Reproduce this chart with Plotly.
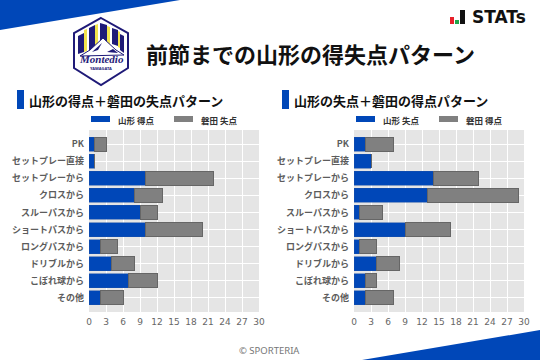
import plotly.graph_objects as go

categories = ["PK", "セットプレー直接", "セットプレーから", "クロスから", "スルーパスから",
              "ショートパスから", "ロングパスから", "ドリブルから", "こぼれ球から", "その他"]
left_home = [1, 1, 10, 8, 9, 10, 2, 4, 7, 2]
left_away = [2, 0, 12, 5, 3, 10, 3, 4, 5, 4]
right_home = [2, 3, 14, 13, 1, 9, 1, 4, 2, 2]
right_away = [5, 0, 8, 16, 4, 8, 3, 4, 2, 5]
x_ticks = list(range(0, 31, 3))

BLUE = "#0047b8"
GREY = "#808080"
EDGE = "#666666"
JP = "Noto Sans CJK JP"
W, H = 540, 360


def px(x):
    return x / W


def py(y):
    return 1 - y / H


fig = go.Figure()
for suffix, vals_a, vals_b, name_a, name_b in [
    ("", left_home, left_away, "山形 得点", "磐田 失点"),
    ("2", right_home, right_away, "山形 失点", "磐田 得点"),
]:
    fig.add_bar(y=categories, x=vals_a, orientation="h", name=name_a, xaxis="x" + suffix, yaxis="y" + suffix,
                marker=dict(color=BLUE, line=dict(color="#1a4fa8", width=0.5)), width=0.82, showlegend=False)
    fig.add_bar(y=categories, x=vals_b, orientation="h", name=name_b, xaxis="x" + suffix, yaxis="y" + suffix,
                marker=dict(color=GREY, line=dict(color=EDGE, width=1)), width=0.82, showlegend=False)

common_x = dict(range=[0, 30], tickvals=x_ticks, showgrid=True, gridcolor="white", gridwidth=1.2, zeroline=False,
                automargin=False, ticks="", ticklabelstandoff=3,
                tickfont=dict(family="DejaVu Sans", size=9, color="#666666"), showline=False)
common_y = dict(autorange=False, range=[9.82, -0.82], categoryorder="array", categoryarray=categories,
                automargin=False, showgrid=True, gridcolor="white", gridwidth=1.2, ticks="", ticklen=0,
                ticklabelstandoff=4, tickfont=dict(family=JP, size=9, color="#5c5c5c", weight="bold"),
                showline=False)

shapes = []
annotations = []


def rect(x0, y0, x1, y1, color):
    shapes.append(dict(type="rect", xref="paper", yref="paper", x0=px(x0), x1=px(x1), y0=py(y1), y1=py(y0),
                       fillcolor=color, line=dict(width=0), layer="above"))


def poly(points, color, line=None, width=0):
    path = "M " + " L ".join(f"{px(a):.5f},{py(b):.5f}" for a, b in points) + " Z"
    shapes.append(dict(type="path", xref="paper", yref="paper", path=path, fillcolor=color,
                       line=dict(width=width, color=line or color), layer="above"))


def text(x, y, s, size, color="#111111", family=JP, anchor="left", weight="normal", style="normal"):
    annotations.append(dict(xref="paper", yref="paper", x=px(x), y=py(y), text=s, showarrow=False,
                            xanchor=anchor, yanchor="middle", borderpad=0,
                            font=dict(family=family, size=size, color=color, weight=weight, style=style)))


# page corners
poly([(0, 0), (180, 0), (0, 30)], BLUE)
poly([(362, 360), (540, 330), (540, 360)], BLUE)

# crest
NAVY = "#1f1a78"
YEL = "#f2e34c"
poly([(101, 18), (128, 33), (128, 68), (101, 85), (74, 68), (74, 33)], "white", NAVY, 2)
poly([(78, 36), (84, 33), (84, 52), (78, 54)], NAVY)
poly([(84, 30), (87, 29), (87, 51), (84, 52)], YEL)
poly([(89, 28), (95, 25), (95, 48), (89, 51)], NAVY)
poly([(95, 25), (98, 24), (98, 47), (95, 48)], YEL)
poly([(100, 23), (107, 25), (107, 44), (100, 42)], NAVY)
poly([(107, 26), (110, 27), (110, 45), (107, 44)], YEL)
poly([(112, 28), (118, 30), (118, 46), (112, 44)], NAVY)
poly([(118, 31), (120, 32), (120, 48), (118, 47)], YEL)
poly([(120, 34), (124, 36), (124, 53), (120, 50)], NAVY)
poly([(80, 56), (90, 50), (103, 38), (116, 50), (124, 55)], "white", NAVY, 1)
poly([(92, 52), (102, 43), (98, 50)], NAVY)
poly([(107, 52), (113, 49), (118, 53)], NAVY)
text(101, 59.5, "Montedio", 11, NAVY, "Liberation Serif", "center", "bold", "italic")
text(101, 68.5, "YAMAGATA", 4, NAVY, "Noto Sans", "center", "bold")

# STATs logo
rect(450, 17, 454, 24, "#e8202a")
rect(455, 20, 459, 24, "#1fa64a")
rect(460, 10, 465, 24, "#111111")
text(471, 17, "STATs", 17, "#111111", "DejaVu Sans", "left", "bold")

# title
text(145, 52.5, "前節までの山形の得失点パターン", 22, "#111111", JP, "left", "bold")

# sub-panels
for x_bar, sub, leg_a, leg_b, xs in [
    (17, "山形の得点＋磐田の失点パターン", "山形 得点", "磐田 失点", (91, 117, 174, 200)),
    (282, "山形の失点＋磐田の得点パターン", "山形 失点", "磐田 得点", (356, 382, 439, 465)),
]:
    rect(x_bar, 90, x_bar + 7, 109, BLUE)
    text(x_bar + 11, 100, sub, 13, "#111111", JP, "left", "bold")
    rect(xs[0], 116, xs[0] + 19, 122, BLUE)
    text(xs[1], 120, leg_a, 8.5, "#333333", JP, "left", "bold")
    rect(xs[2], 116, xs[2] + 19, 122, GREY)
    text(xs[3], 120, leg_b, 8.5, "#333333", JP, "left", "bold")

text(269, 350, "© SPORTERIA", 9.5, "#777777", "Noto Sans", "center")

fig.update_layout(
    width=W, height=H, autosize=False, barmode="stack", bargap=0.18,
    margin=dict(l=0, r=0, t=0, b=0, autoexpand=False), paper_bgcolor="white", plot_bgcolor="#e5e5e5",
    showlegend=False,
    xaxis=dict(domain=[px(89), px(259)], anchor="y", **common_x),
    yaxis=dict(domain=[py(312), py(130)], anchor="x", **common_y),
    xaxis2=dict(domain=[px(354), px(524)], anchor="y2", **common_x),
    yaxis2=dict(domain=[py(312), py(130)], anchor="x2", **common_y),
    shapes=shapes, annotations=annotations,
)
fig.write_html("out.html", config={"displayModeBar": False},
               post_script="document.body.style.margin='0';document.documentElement.style.overflow='hidden';")
